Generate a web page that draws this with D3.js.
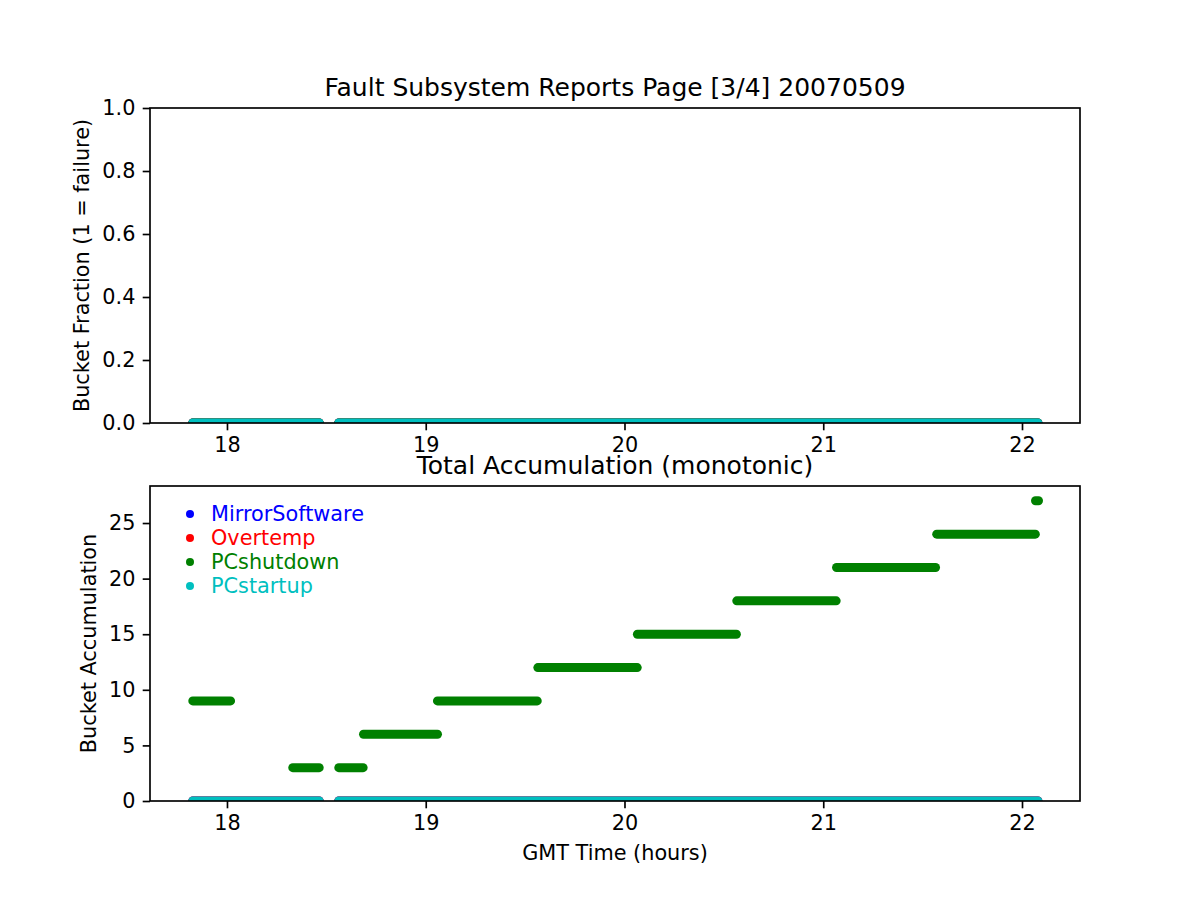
<!DOCTYPE html>
<html><head><meta charset="utf-8">
<script src="https://cdn.jsdelivr.net/npm/d3@7/dist/d3.min.js"></script>
<style>body{margin:0;background:#fff}svg{display:block}text{font-family:"DejaVu Sans",sans-serif}</style>
</head><body>
<script>
// ---- data ----
const seriesNames = ["MirrorSoftware", "Overtemp", "PCshutdown", "PCstartup"];
const seriesColors = ["#0000ff", "#ff0000", "#008000", "#00bfbf"];
// time spans (GMT hours) with reports; all fractions are 0
const reportSpans = [[17.828, 18.464], [18.5625, 22.08]];
const fractionValue = 0;
// PCshutdown total accumulation: [start hour, end hour, value]
const pcshutdownAccum = [
  [17.828, 18.018, 9],
  [18.331, 18.464, 3],
  [18.5625, 18.685, 3],
  [18.687, 19.059, 6],
  [19.059, 19.561, 9],
  [19.564, 20.064, 12],
  [20.065, 20.563, 15],
  [20.565, 21.065, 18],
  [21.067, 21.565, 21],
  [21.571, 22.067, 24],
  [22.068, 22.083, 27]
];
const xTicks = [18, 19, 20, 21, 22];
const topYTicks = [0, 0.2, 0.4, 0.6, 0.8, 1.0];
const botYTicks = [0, 5, 10, 15, 20, 25];
const topTitle = "Fault Subsystem Reports Page [3/4] 20070509";
const botTitle = "Total Accumulation (monotonic)";

// ---- layout ----
const W = 1200, H = 900;
const L = 150, R = 1080;
const top1 = 108, bot1 = 423, top2 = 486, bot2 = 801;
const fs = 20.8, tfs = 25;
const tick = 7.3, pad = 7.3, lw = 1.67;
const svg = d3.select("body").append("svg").attr("width", W).attr("height", H);

const x = d3.scaleLinear().domain([17.6127, 22.2918]).range([L, R]);
const y1 = d3.scaleLinear().domain([0, 1]).range([bot1, top1]);
const y2 = d3.scaleLinear().domain([0, 28.33]).range([bot2, top2]);

const defs = svg.append("defs");
defs.append("clipPath").attr("id", "c1").append("rect").attr("x", L).attr("y", top1).attr("width", R - L).attr("height", bot1 - top1);
defs.append("clipPath").attr("id", "c2").append("rect").attr("x", L).attr("y", top2).attr("width", R - L).attr("height", bot2 - top2);

function seg(g, data, y, color) {
  g.selectAll(null).data(data).enter().append("line")
    .attr("x1", d => x(d[0])).attr("x2", d => x(d[1]))
    .attr("y1", d => y(d[2])).attr("y2", d => y(d[2]))
    .attr("stroke", color).attr("stroke-width", 9).attr("stroke-linecap", "round");
}

function axes(y, ticks, fmt, ytop, ybot, clipId, title, ylabel, ylabelX) {
  const g = svg.append("g");
  const plot = g.append("g").attr("clip-path", `url(#${clipId})`);
  const zeroSpans = reportSpans.map(s => [s[0], s[1], fractionValue]);
  seriesNames.forEach((n, i) => {
    if (clipId === "c2" && n === "PCshutdown") seg(plot, pcshutdownAccum, y, seriesColors[i]);
    else seg(plot, zeroSpans, y, seriesColors[i]);
  });
  const ax = g.append("g").attr("transform", `translate(0,${ybot})`)
    .call(d3.axisBottom(x).tickValues(xTicks).tickSize(tick).tickPadding(pad).tickFormat(d3.format("d")));
  const ay = g.append("g").attr("transform", `translate(${L},0)`)
    .call(d3.axisLeft(y).tickValues(ticks).tickSize(tick).tickPadding(pad).tickFormat(fmt));
  [ax, ay].forEach(a => {
    a.select(".domain").remove();
    a.selectAll("line").attr("stroke", "#000").attr("stroke-width", lw);
    a.selectAll("text").attr("font-size", fs).attr("font-family", "DejaVu Sans").attr("fill", "#000");
  });
  g.append("rect").attr("x", L).attr("y", ytop).attr("width", R - L).attr("height", ybot - ytop)
    .attr("fill", "none").attr("stroke", "#000").attr("stroke-width", lw);
  g.append("text").attr("x", (L + R) / 2).attr("y", ytop - 12.5).attr("text-anchor", "middle")
    .attr("font-size", tfs).text(title);
  g.append("text").attr("transform", `translate(${ylabelX},${(ytop + ybot) / 2}) rotate(-90)`)
    .attr("text-anchor", "middle").attr("font-size", fs).text(ylabel);
}

axes(y1, topYTicks, d3.format(".1f"), top1, bot1, "c1", topTitle, "Bucket Fraction (1 = failure)", 89);
axes(y2, botYTicks, d3.format("d"), top2, bot2, "c2", botTitle, "Bucket Accumulation", 96);

svg.append("text").attr("x", (L + R) / 2).attr("y", 860).attr("text-anchor", "middle")
  .attr("font-size", fs).text("GMT Time (hours)");

// legend
const leg = svg.append("g");
seriesNames.forEach((n, i) => {
  const yy = 514 + i * 24;
  leg.append("circle").attr("cx", 190).attr("cy", yy).attr("r", 4).attr("fill", seriesColors[i]);
  leg.append("text").attr("x", 211).attr("y", yy).attr("dy", "0.35em").attr("font-size", fs)
    .attr("fill", seriesColors[i]).text(n);
});
</script>
</body></html>
